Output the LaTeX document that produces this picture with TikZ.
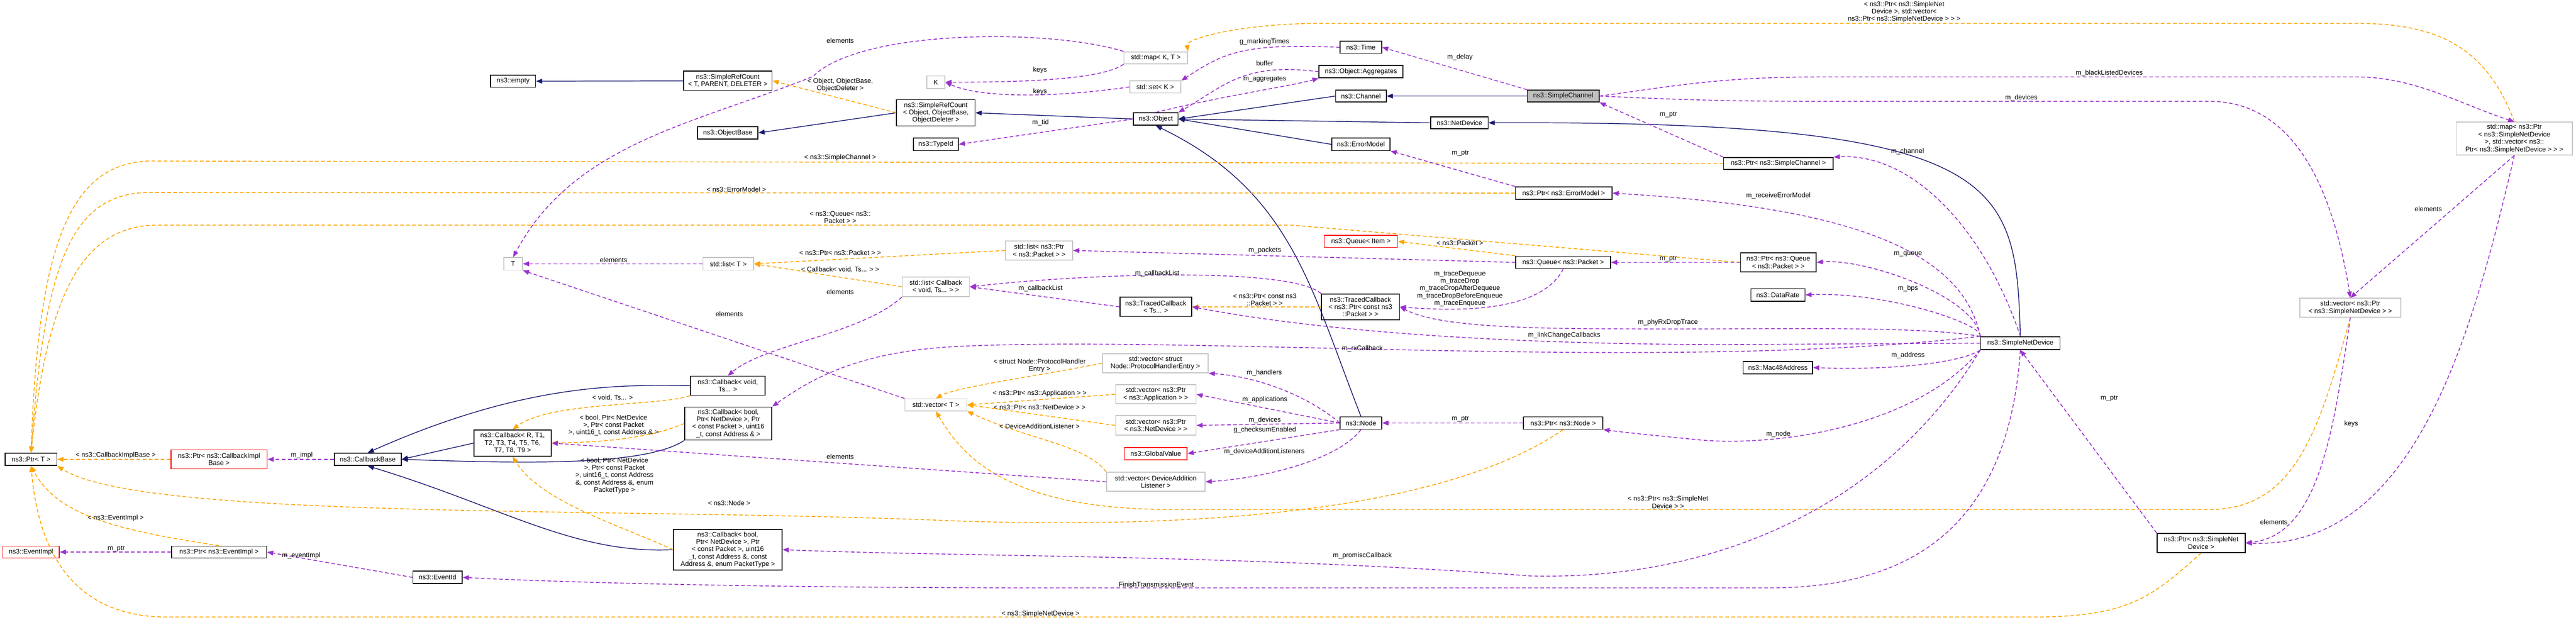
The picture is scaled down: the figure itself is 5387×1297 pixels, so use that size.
\documentclass[tikz,border=0pt]{standalone}
\usepackage{fontspec}
\setmainfont{Liberation Sans}
\usetikzlibrary{arrows.meta}

\definecolor{inhcol}{HTML}{191970}
\definecolor{tplcol}{HTML}{FFA500}
\definecolor{usecol}{HTML}{9A32CD}
\definecolor{selcol}{HTML}{BFBFBF}

\tikzset{
  box/.style={draw, line width=0.5pt, inner sep=1pt, align=center, font=\fontsize{4}{4.4}\selectfont},
  cls/.style={box, draw=black},
  ext/.style={box, draw=gray!45},
  undoc/.style={box, draw=red},
  lbl/.style={inner sep=0pt, align=center, font=\fontsize{4}{4.4}\selectfont},
  inh/.style={draw=inhcol, line width=0.45pt, -{Triangle[length=0.13cm,width=0.1cm]}},
  tpl/.style={draw=tplcol, line width=0.5pt, dash pattern=on 2.2pt off 1.4pt, -{Triangle[length=0.13cm,width=0.1cm]}},
  use/.style={draw=usecol, line width=0.5pt, dash pattern=on 2.2pt off 1.4pt, -{Triangle[length=0.13cm,width=0.1cm]}},
}

\begin{document}
\begin{tikzpicture}[x=0.01cm,y=-0.01cm]
\useasboundingbox (0,0) rectangle (5387,1297);

% nodes, left part
\node[cls, minimum width=0.94cm, minimum height=0.25cm] (empty) at (1073,170) {ns3::empty};
\node[cls, minimum width=1.85cm, minimum height=0.40cm] (rcT) at (1522,169) {ns3::SimpleRefCount\\< T, PARENT, DELETER >};
\node[cls, minimum width=1.26cm, minimum height=0.26cm] (objbase) at (1522,278) {ns3::ObjectBase};
\node[ext, minimum width=0.39cm, minimum height=0.26cm] (T) at (1073,552) {T};
\node[ext, minimum width=1.06cm, minimum height=0.26cm] (listT) at (1523,552) {std::list< T >};
\node[cls, minimum width=1.08cm, minimum height=0.26cm] (ptrT) at (65,961) {ns3::Ptr< T >};
\node[undoc, minimum width=2.01cm, minimum height=0.40cm] (ptrCIB) at (458,961) {ns3::Ptr< ns3::CallbackImpl\\Base >};
\node[cls, minimum width=1.40cm, minimum height=0.26cm] (cbBase) at (769,961) {ns3::CallbackBase};
\node[cls, minimum width=1.61cm, minimum height=0.55cm] (cbR) at (1072,927) {ns3::Callback< R, T1,\\T2, T3, T4, T5, T6,\\T7, T8, T9 >};
\node[cls, minimum width=1.56cm, minimum height=0.40cm] (cbVoid) at (1522,807) {ns3::Callback< void,\\Ts... >};
\node[cls, minimum width=1.82cm, minimum height=0.69cm] (cbAddr) at (1523,886) {ns3::Callback< bool,\\Ptr< NetDevice >, Ptr\\< const Packet >, uint16\\\_t, const Address \& >};
\node[cls, minimum width=2.27cm, minimum height=0.85cm] (cbPT) at (1522,1150) {ns3::Callback< bool,\\Ptr< NetDevice >, Ptr\\< const Packet >, uint16\\\_t, const Address \&, const\\Address \&, enum PacketType >};
\node[undoc, minimum width=1.18cm, minimum height=0.25cm] (evImpl) at (65,1155) {ns3::EventImpl};
\node[cls, minimum width=1.99cm, minimum height=0.25cm] (ptrEv) at (458,1155) {ns3::Ptr< ns3::EventImpl >};
\node[cls, minimum width=1.03cm, minimum height=0.26cm] (evId) at (915,1208) {ns3::EventId};

% nodes, middle part
\node[ext, minimum width=1.33cm, minimum height=0.25cm] (mapKT) at (2417,121) {std::map< K, T >};
\node[cls, minimum width=0.87cm, minimum height=0.25cm] (time) at (2846,99) {ns3::Time};
\node[ext, minimum width=0.38cm, minimum height=0.26cm] (K) at (1957,172) {K};
\node[ext, minimum width=1.07cm, minimum height=0.25cm] (setK) at (2416,182) {std::set< K >};
\node[cls, minimum width=1.75cm, minimum height=0.26cm] (aggr) at (2846,150) {ns3::Object::Aggregates};
\node[cls, minimum width=1.06cm, minimum height=0.25cm] (channel) at (2846,201) {ns3::Channel};
\node[cls, fill=selcol, minimum width=1.50cm, minimum height=0.25cm] (sch) at (3269,201) {ns3::SimpleChannel};
\node[cls, minimum width=1.64cm, minimum height=0.55cm] (rcObj) at (1957,236) {ns3::SimpleRefCount\\< Object, ObjectBase,\\ObjectDeleter >};
\node[cls, minimum width=0.93cm, minimum height=0.26cm] (object) at (2417,249) {ns3::Object};
\node[cls, minimum width=1.20cm, minimum height=0.25cm] (netdev) at (3052,257) {ns3::NetDevice};
\node[cls, minimum width=0.94cm, minimum height=0.26cm] (typeid) at (1957,302) {ns3::TypeId};
\node[cls, minimum width=1.22cm, minimum height=0.26cm] (errm) at (2846,302) {ns3::ErrorModel};
\node[cls, minimum width=2.02cm, minimum height=0.26cm] (ptrErr) at (3270,404) {ns3::Ptr< ns3::ErrorModel >};
\node[undoc, minimum width=1.53cm, minimum height=0.25cm] (qItem) at (2846,505) {ns3::Queue< Item >};
\node[ext, minimum width=1.40cm, minimum height=0.40cm] (listPkt) at (2173,524) {std::list< ns3::Ptr\\< ns3::Packet > >};
\node[cls, minimum width=1.98cm, minimum height=0.26cm] (qPkt) at (3269,549) {ns3::Queue< ns3::Packet >};
\node[ext, minimum width=1.40cm, minimum height=0.41cm] (listCb) at (1957,600) {std::list< Callback\\< void, Ts... > >};
\node[cls, minimum width=1.50cm, minimum height=0.40cm] (tcTs) at (2417,642) {ns3::TracedCallback\\< Ts... >};
\node[cls, minimum width=1.63cm, minimum height=0.54cm] (tcPkt) at (2845,642) {ns3::TracedCallback\\< ns3::Ptr< const ns3\\::Packet > >};
\node[ext, minimum width=1.29cm, minimum height=0.25cm] (vecT) at (1957,847) {std::vector< T >};
\node[ext, minimum width=2.21cm, minimum height=0.40cm] (vecPHE) at (2416,760) {std::vector< struct\\Node::ProtocolHandlerEntry >};
\node[ext, minimum width=1.68cm, minimum height=0.40cm] (vecApp) at (2417,825) {std::vector< ns3::Ptr\\< ns3::Application > >};
\node[ext, minimum width=1.68cm, minimum height=0.41cm] (vecND) at (2417,890) {std::vector< ns3::Ptr\\< ns3::NetDevice > >};
\node[undoc, minimum width=1.31cm, minimum height=0.26cm] (gval) at (2417,949) {ns3::GlobalValue};
\node[ext, minimum width=2.06cm, minimum height=0.40cm] (vecDAL) at (2417,1008) {std::vector< DeviceAddition\\Listener >};
\node[cls, minimum width=0.87cm, minimum height=0.26cm] (node) at (2846,885) {ns3::Node};
\node[cls, minimum width=1.66cm, minimum height=0.26cm] (ptrNode) at (3269,885) {ns3::Ptr< ns3::Node >};

% nodes, right part
\node[ext, minimum width=2.43cm, minimum height=0.69cm] (mapSND) at (5258,290) {std::map< ns3::Ptr\\< ns3::SimpleNetDevice\\ >, std::vector< ns3::\\Ptr< ns3::SimpleNetDevice > > >};
\node[cls, minimum width=2.29cm, minimum height=0.25cm] (ptrSch) at (3719,342) {ns3::Ptr< ns3::SimpleChannel >};
\node[cls, minimum width=1.58cm, minimum height=0.40cm] (ptrQ) at (3719,549) {ns3::Ptr< ns3::Queue\\< ns3::Packet > >};
\node[cls, minimum width=1.13cm, minimum height=0.26cm] (drate) at (3718,617) {ns3::DataRate};
\node[ext, minimum width=2.11cm, minimum height=0.40cm] (vecSND) at (4915,644) {std::vector< ns3::Ptr\\< ns3::SimpleNetDevice > >};
\node[cls, minimum width=1.66cm, minimum height=0.27cm] (snd) at (4225,718) {ns3::SimpleNetDevice};
\node[cls, minimum width=1.45cm, minimum height=0.26cm] (mac) at (3718,769) {ns3::Mac48Address};
\node[cls, minimum width=1.84cm, minimum height=0.40cm] (ptrSND) at (4603,1136) {ns3::Ptr< ns3::SimpleNet\\Device >};

% inheritance
\draw[inh] (rcT) -- (empty);
\draw[inh] (rcObj.west) -- (objbase.east);
\draw[inh] (object.west) -- (rcObj.east);
\draw[inh] (channel.west) -- (object.east);
\draw[inh] (netdev.west) -- (object.east);
\draw[inh] (errm.west) -- (object.east);
\draw[inh] (node.north) .. controls (2740,600) and (2700,400) .. (object.south);
\draw[inh] (sch) -- (channel);
\draw[inh] (snd.north) .. controls (4215,380) and (4200,252) .. (netdev.east);
\draw[inh] (cbVoid.west) .. controls (1300,805) and (1100,800) .. (cbBase.north);
\draw[inh] (cbR.west) -- (cbBase.east);
\draw[inh] (cbAddr.south west) .. controls (1350,975) and (1100,970) .. (cbBase.east);
\draw[inh] (cbPT.west) .. controls (1200,1160) and (1050,1060) .. (cbBase.south);

% templates
\draw[tpl] (rcObj.west) -- (rcT.east);
\draw[tpl] (ptrSch.west) -- (330,337) .. controls (150,330) and (80,500) .. (ptrT.north);
\draw[tpl] (ptrErr.west) -- (330,403) .. controls (160,395) and (95,520) .. (ptrT.north);
\draw[tpl] (ptrQ.west) -- (2700,471) -- (330,471) .. controls (180,471) and (100,600) .. (ptrT.north);
\draw[tpl] (ptrCIB.west) -- (ptrT.east);
\draw[tpl] (ptrNode.south) .. controls (3050,1050) and (2600,1110) .. (2000,1090) .. controls (1300,1060) and (300,1090) .. (ptrT.south east);
\draw[tpl] (ptrEv.north) .. controls (250,1110) and (120,1080) .. (ptrT.south);
\draw[tpl] (ptrSND.south) .. controls (4500,1250) and (4450,1291) .. (4250,1291) -- (350,1291) .. controls (150,1291) and (80,1150) .. (ptrT.south);
\draw[tpl] (mapSND.north) .. controls (5200,100) and (5100,49) .. (4930,49) -- (2760,49) .. controls (2600,49) and (2480,80) .. (mapKT.north east);
\draw[tpl] (listPkt.west) -- (listT.east);
\draw[tpl] (listCb.west) -- (listT.east);
\draw[tpl] (cbVoid.south west) .. controls (1380,850) and (1150,840) .. (cbR.north);
\draw[tpl] (cbAddr.west) .. controls (1350,920) and (1250,925) .. (cbR.east);
\draw[tpl] (cbPT.west) .. controls (1300,1100) and (1130,1050) .. (cbR.south);
\draw[tpl] (qPkt.north west) -- (qItem.east);
\draw[tpl] (tcPkt.west) -- (tcTs.east);
\draw[tpl] (vecPHE.west) .. controls (2150,790) and (2000,810) .. (vecT.north);
\draw[tpl] (vecApp.west) -- (vecT.east);
\draw[tpl] (vecND.west) -- (vecT.east);
\draw[tpl] (vecDAL.north west) .. controls (2270,930) and (2150,920) .. (vecT.south east);
\draw[tpl] (vecSND.south) .. controls (4850,900) and (4800,1066) .. (4620,1066) -- (2450,1066) .. controls (2100,1066) and (2010,950) .. (vecT.south);

% usage
\draw[use] (mapKT.north west) .. controls (2200,60) and (1800,60) .. (1700,160) .. controls (1450,260) and (1200,300) .. (T.north);
\draw[use] (mapKT.south west) .. controls (2300,170) and (2100,172) .. (K.east);
\draw[use] (setK.west) .. controls (2200,205) and (2050,205) .. (K.east);
\draw[use] (time.west) .. controls (2600,90) and (2560,110) .. (setK.north east);
\draw[use] (aggr.west) .. controls (2600,130) and (2560,180) .. (object.north east);
\draw[use] (object.north) .. controls (2560,200) and (2700,180) .. (aggr.south west);
\draw[use] (object.west) -- (typeid.east);
\draw[use] (sch.north west) -- (time.east);
\draw[use] (sch.east) .. controls (3500,180) and (3600,161) .. (3800,161) -- (4930,161) .. controls (5050,161) and (5150,220) .. (mapSND.north);
\draw[use] (sch.east) .. controls (3500,208) and (3600,212) .. (3800,212) -- (4620,212) .. controls (4800,212) and (4880,400) .. (vecSND.north);
\draw[use] (ptrSch.north west) -- (sch.south east);
\draw[use] (ptrErr.north west) -- (errm.south east);
\draw[use] (listT.west) -- (T.east);
\draw[use] (qPkt.west) -- (listPkt.east);
\draw[use] (ptrQ.west) -- (qPkt.east);
\draw[use] (qPkt.south) .. controls (3240,620) and (3150,660) .. (tcPkt.east);
\draw[use] (tcTs.west) -- (listCb.east);
\draw[use] (tcPkt.north west) .. controls (2700,560) and (2300,570) .. (listCb.east);
\draw[use] (listCb.south west) .. controls (1800,700) and (1600,720) .. (cbVoid.north);
\draw[use] (vecT.north west) -- (T.south east);
\draw[use] (snd.north west) .. controls (3500,780) and (2500,700) .. (2000,725) .. controls (1800,735) and (1700,790) .. (cbAddr.north east);
\draw[use] (vecDAL.west) -- (cbR.east);
\draw[use] (snd.south west) .. controls (3950,1050) and (3600,1215) .. (3200,1205) .. controls (2600,1160) and (2000,1165) .. (cbPT.east);
\draw[use] (snd.south) .. controls (4200,1100) and (4000,1230) .. (3700,1230) -- (2200,1230) .. controls (1500,1230) and (1100,1215) .. (evId.east);
\draw[use] (evId.west) -- (ptrEv.east);
\draw[use] (ptrEv.west) -- (evImpl.east);
\draw[use] (cbBase.west) -- (ptrCIB.east);
\draw[use] (node.west) .. controls (2750,840) and (2650,790) .. (vecPHE.south east);
\draw[use] (node.west) -- (vecApp.east);
\draw[use] (node.west) -- (vecND.east);
\draw[use] (node.south west) -- (gval.east);
\draw[use] (node.south) .. controls (2800,960) and (2650,1000) .. (vecDAL.east);
\draw[use] (ptrNode.west) -- (node.east);
\draw[use] (snd.south west) .. controls (4000,900) and (3700,935) .. (3550,920) .. controls (3450,910) and (3400,905) .. (ptrNode.south east);
\draw[use] (snd.north) .. controls (4150,480) and (4000,320) .. (ptrSch.north east);
\draw[use] (snd.north west) .. controls (4100,500) and (3800,430) .. (ptrErr.east);
\draw[use] (snd.north west) .. controls (4130,620) and (3900,540) .. (ptrQ.east);
\draw[use] (snd.north west) .. controls (4150,680) and (3950,610) .. (drate.east);
\draw[use] (snd.north west) .. controls (4000,680) and (3700,690) .. (3400,688) .. controls (3150,688) and (3000,680) .. (tcPkt.east);
\draw[use] (snd.west) -- (3600,721) .. controls (3200,720) and (2800,700) .. (tcTs.east);
\draw[use] (snd.south west) .. controls (4100,760) and (3950,775) .. (mac.east);
\draw[use] (ptrSND.north west) -- (snd.south);
\draw[use] (vecSND.south) .. controls (4880,900) and (4850,1120) .. (ptrSND.east);
\draw[use] (mapSND.south) -- (vecSND.north);
\draw[use] (mapSND.south) .. controls (5170,700) and (5050,1150) .. (ptrSND.east);

% labels
\node[lbl] (l01) at (1757,85) {elements};
\node[lbl] (l02) at (1757,178) {< Object, ObjectBase,\\ObjectDeleter >};
\node[lbl] (l03) at (1757,330) {< ns3::SimpleChannel >};
\node[lbl] (l04) at (1540,396) {< ns3::ErrorModel >};
\node[lbl] (l05) at (1757,455) {< ns3::Queue< ns3::\\Packet > >};
\node[lbl] (l06) at (1283,544) {elements};
\node[lbl] (l07) at (1757,529) {< ns3::Ptr< ns3::Packet > >};
\node[lbl] (l08) at (1757,564) {< Callback< void, Ts... > >};
\node[lbl] (l09) at (1757,611) {elements};
\node[lbl] (l10) at (1525,657) {elements};
\node[lbl] (l11) at (242,953) {< ns3::CallbackImplBase >};
\node[lbl] (l12) at (631,953) {m\_impl};
\node[lbl] (l13) at (1281,832) {< void, Ts... >};
\node[lbl] (l14) at (1283,890) {< bool, Ptr< NetDevice\\>, Ptr< const Packet\\>, uint16\_t, const Address \& >};
\node[lbl] (l15) at (1285,995) {< bool, Ptr< NetDevice\\>, Ptr< const Packet\\>, uint16\_t, const Address\\\&, const Address \&, enum\\PacketType >};
\node[lbl] (l16) at (1757,955) {elements};
\node[lbl] (l17) at (1525,1052) {< ns3::Node >};
\node[lbl] (l18) at (242,1084) {< ns3::EventImpl >};
\node[lbl] (l19) at (243,1148) {m\_ptr};
\node[lbl] (l20) at (630,1163) {m\_eventImpl};
\node[lbl] (l21) at (2644,87) {g\_markingTimes};
\node[lbl] (l22) at (2175,147) {keys};
\node[lbl] (l23) at (2175,192) {keys};
\node[lbl] (l24) at (2645,132) {buffer};
\node[lbl] (l25) at (2645,165) {m\_aggregates};
\node[lbl] (l26) at (3053,120) {m\_delay};
\node[lbl] (l27) at (2176,257) {m\_tid};
\node[lbl] (l28) at (3489,240) {m\_ptr};
\node[lbl] (l29) at (3054,321) {m\_ptr};
\node[lbl] (l30) at (3053,508) {< ns3::Packet >};
\node[lbl] (l31) at (2645,524) {m\_packets};
\node[lbl] (l32) at (3489,541) {m\_ptr};
\node[lbl] (l33) at (2420,572) {m\_callbackList};
\node[lbl] (l34) at (2176,603) {m\_callbackList};
\node[lbl] (l35) at (2645,627) {< ns3::Ptr< const ns3\\::Packet > >};
\node[lbl] (l36) at (3053,604) {m\_traceDequeue\\m\_traceDrop\\m\_traceDropAfterDequeue\\m\_traceDropBeforeEnqueue\\m\_traceEnqueue};
\node[lbl] (l37) at (3488,675) {m\_phyRxDropTrace};
\node[lbl] (l38) at (3271,701) {m\_linkChangeCallbacks};
\node[lbl] (l39) at (2849,729) {m\_rxCallback};
\node[lbl] (l40) at (2174,765) {< struct Node::ProtocolHandler\\Entry >};
\node[lbl] (l41) at (2644,780) {m\_handlers};
\node[lbl] (l42) at (2174,823) {< ns3::Ptr< ns3::Application > >};
\node[lbl] (l43) at (2645,836) {m\_applications};
\node[lbl] (l44) at (2174,852) {< ns3::Ptr< ns3::NetDevice > >};
\node[lbl] (l45) at (2645,879) {m\_devices};
\node[lbl] (l46) at (2645,900) {g\_checksumEnabled};
\node[lbl] (l47) at (2174,892) {< DeviceAdditionListener >};
\node[lbl] (l48) at (2644,945) {m\_deviceAdditionListeners};
\node[lbl] (l49) at (3054,877) {m\_ptr};
\node[lbl] (l50) at (3488,1051) {< ns3::Ptr< ns3::SimpleNet\\Device > >};
\node[lbl] (l51) at (2849,1163) {m\_promiscCallback};
\node[lbl] (l52) at (2418,1223) {FinishTransmissionEvent};
\node[lbl] (l53) at (2176,1284) {< ns3::SimpleNetDevice >};
\node[lbl] (l54) at (3982,25) {< ns3::Ptr< ns3::SimpleNet\\Device >, std::vector<\\ns3::Ptr< ns3::SimpleNetDevice > > >};
\node[lbl] (l55) at (4411,153) {m\_blackListedDevices};
\node[lbl] (l56) at (4227,205) {m\_devices};
\node[lbl] (l57) at (3989,317) {m\_channel};
\node[lbl] (l58) at (3719,409) {m\_receiveErrorModel};
\node[lbl] (l59) at (3990,531) {m\_queue};
\node[lbl] (l60) at (3990,604) {m\_bps};
\node[lbl] (l61) at (5078,437) {elements};
\node[lbl] (l62) at (3990,744) {m\_address};
\node[lbl] (l63) at (3719,908) {m\_node};
\node[lbl] (l64) at (4411,833) {m\_ptr};
\node[lbl] (l65) at (4917,887) {keys};
\node[lbl] (l66) at (4755,1092) {elements};
\end{tikzpicture}
\end{document}
